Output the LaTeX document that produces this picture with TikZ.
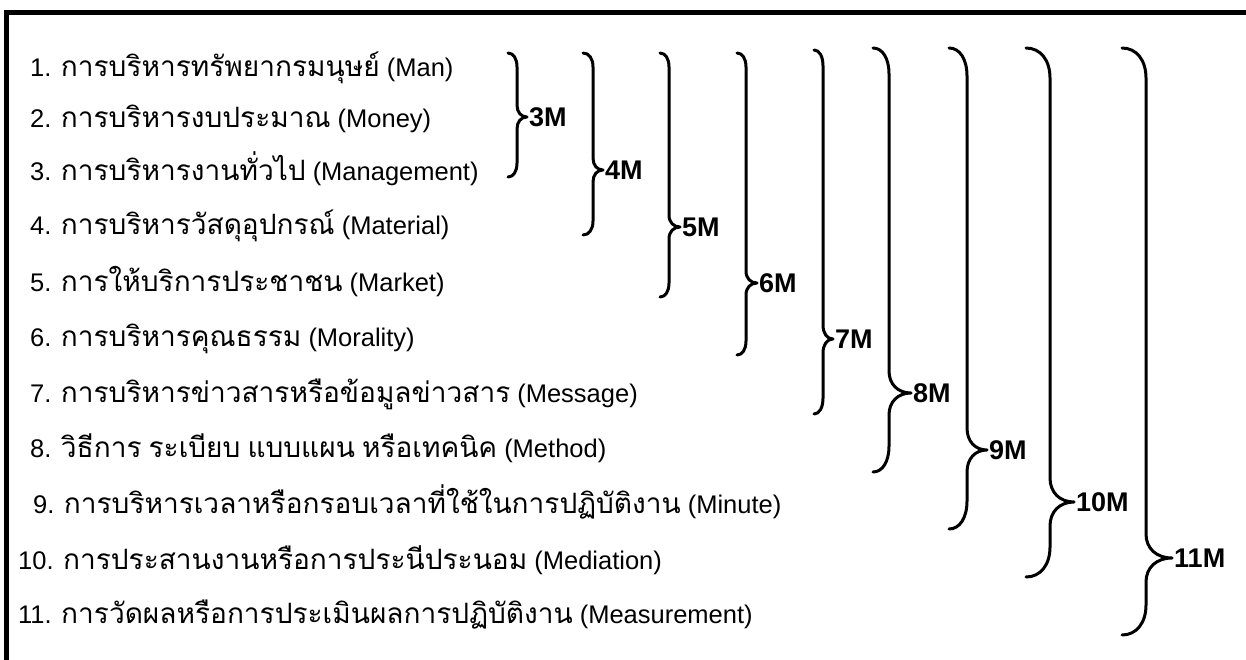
\documentclass[tikz,border=0pt]{standalone}
\usepackage{fontspec}
\setmainfont{Liberation Sans}
\newfontfamily\thai[Script=Thai,Scale=1.1]{Loma}
\begin{document}
\begin{tikzpicture}[x=1pt,y=-1pt,
  item/.style={anchor=base west, inner sep=0pt, font=\fontsize{25.5}{30}\selectfont},
  mlabel/.style={anchor=west, inner sep=0pt, font=\fontsize{27}{30}\selectfont\bfseries},
  brace/.style={line width=3pt, line cap=round, line join=round},
  frame/.style={line width=5pt}]
\useasboundingbox (0,0) rectangle (1246,660);
% frame (top and left only)
\draw[frame] (6,12.5) -- (1246,12.5);
\draw[frame] (6,10) -- (6,660);
% items
\node[item] (l1) at (30,77) {1. {\thai การบริหารทรัพยากรมนุษย์} (Man)};
\node[item] (l2) at (30,128) {2. {\thai การบริหารงบประมาณ} (Money)};
\node[item] (l3) at (30,181) {3. {\thai การบริหารงานทั่วไป} (Management)};
\node[item] (l4) at (30,235) {4. {\thai การบริหารวัสดุอุปกรณ์} (Material)};
\node[item] (l5) at (30,291) {5. {\thai การให้บริการประชาชน} (Market)};
\node[item] (l6) at (30,346) {6. {\thai การบริหารคุณธรรม} (Morality)};
\node[item] (l7) at (30,402) {7. {\thai การบริหารข่าวสารหรือข้อมูลข่าวสาร} (Message)};
\node[item] (l8) at (30,457) {8. {\thai วิธีการ} {\thai ระเบียบ} {\thai แบบแผน} {\thai หรือเทคนิค} (Method)};
\node[item] (l9) at (33,513) {9. {\thai การบริหารเวลาหรือกรอบเวลาที่ใช้ในการปฏิบัติงาน} (Minute)};
\node[item] (l10) at (18,569) {10. {\thai การประสานงานหรือการประนีประนอม} (Mediation)};
\node[item] (l11) at (18,623) {11. {\thai การวัดผลหรือการประเมินผลการปฏิบัติงาน} (Measurement)};
% braces: #1 end x, #2 line x, #3 tip x, #4 top y, #5 tip y, #6 bottom y,
%         #7 corner radius (vertical), #8 tip radius (vertical), #9 label
\newcommand\mybrace[9]{%
  \draw[brace] (#1,#4) .. controls ({#1+0.6*(#2-#1)},#4) and (#2,{#4+0.4*#7}) .. (#2,#4+#7)
     -- (#2,#5-#8)
     .. controls (#2,{#5-0.4*#8}) and ({#2+0.4*(#3-#2)},#5) .. (#3,#5) coordinate (t#9)
     .. controls ({#2+0.4*(#3-#2)},#5) and (#2,{#5+0.4*#8}) .. (#2,#5+#8)
     -- (#2,#6-#7)
     .. controls (#2,{#6-0.4*#7}) and ({#1+0.6*(#2-#1)},#6) .. (#1,#6);
  \node[mlabel] (n#9) at ([xshift=2pt]t#9) {#9};}
\mybrace{508}{517}{527}{53}{117}{177}{14}{12}{3M}
\mybrace{583}{593}{603}{53}{170}{235}{14}{12}{4M}
\mybrace{660}{669}{680}{53}{227}{297}{14}{12}{5M}
\mybrace{737}{746}{757}{53}{283}{355}{14}{12}{6M}
\mybrace{814}{823}{833}{50}{339}{414}{16}{14}{7M}
\mybrace{873}{889}{911}{48}{393}{472}{26}{22}{8M}
\mybrace{949}{967}{987}{48}{450}{529}{28}{22}{9M}
\mybrace{1026}{1050}{1074}{48}{502}{577}{30}{24}{10M}
\mybrace{1122}{1146}{1172}{48}{558}{635}{30}{24}{11M}
\end{tikzpicture}
\end{document}
